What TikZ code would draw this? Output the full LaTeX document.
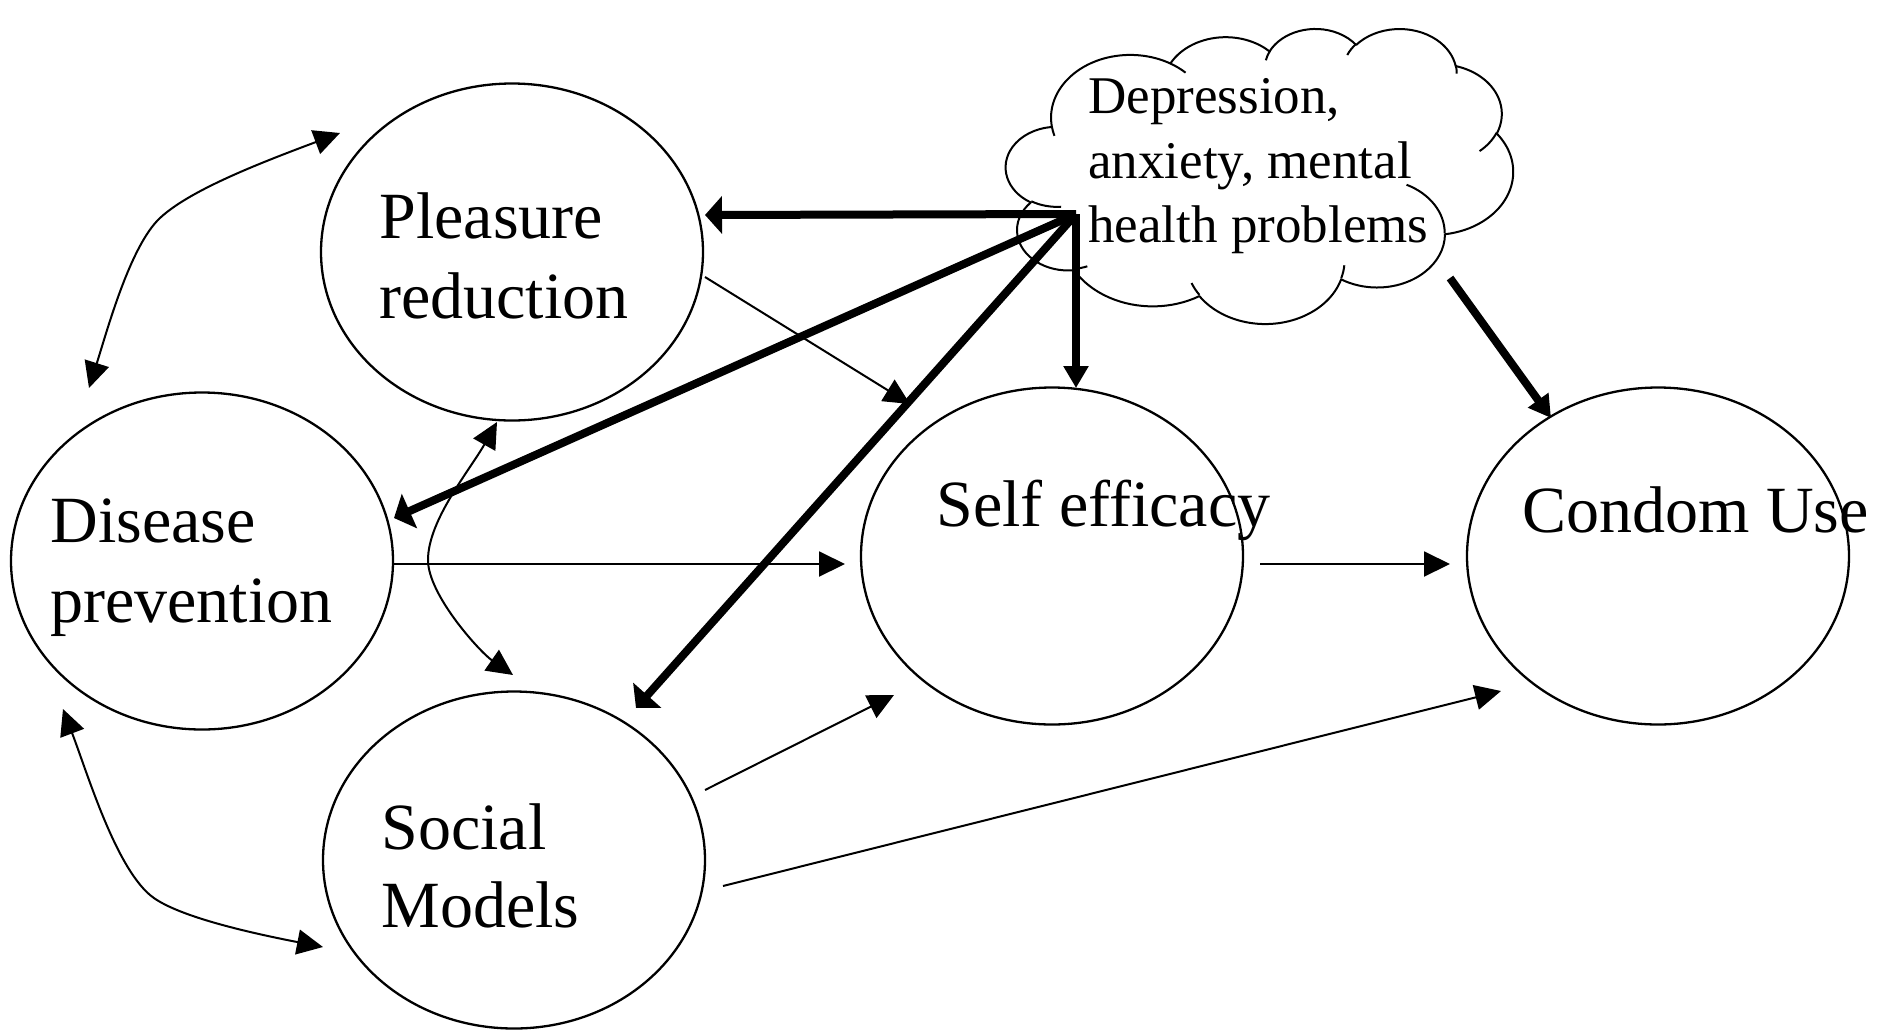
\documentclass[tikz,border=0pt]{standalone}
\usepackage{fontspec}
\setmainfont{Liberation Serif}
\usetikzlibrary{shapes.geometric,arrows.meta}

% One arc of a DrawingML-style path: x radius, y radius, start angle, sweep.
% The angles are directions seen from the centre; they are turned into the
% parametric angles that TikZ's arc uses.
\newcommand\ooarc[4]{%
  \pgfextra{%
    \pgfmathsetmacro\ooS{atan2((#1)*sin(#3),(#2)*cos(#3))}%
    \pgfmathsetmacro\ooE{atan2((#1)*sin((#3)+(#4)),(#2)*cos((#3)+(#4)))}%
    \pgfmathsetmacro\ooE{\ooE+360*round(((#4)-(\ooE-\ooS))/360)}%
    \global\let\ooStart\ooS
    \global\let\ooEnd\ooE
  }%
  arc[start angle=\ooStart, end angle=\ooEnd, x radius=#1, y radius=#2]%
}

\begin{document}
\begin{tikzpicture}[x=0.5pt, y=-0.5pt,
  factor/.style={draw, ellipse, line width=1.15pt, minimum width=191pt,
    minimum height=168.5pt, inner sep=0pt},
  lbl/.style={anchor=base west, inner sep=0pt, font=\fontsize{33}{40}\selectfont},
  cloudlbl/.style={anchor=base west, inner sep=0pt, font=\fontsize{26.5}{32}\selectfont},
  cloudline/.style={line width=1pt, line join=round},
  link/.style={line width=1pt, -{Triangle[length=13pt,width=12.5pt]}},
  twoway/.style={line width=1pt,
    {Triangle[length=13pt,width=12.5pt]}-{Triangle[length=13pt,width=12.5pt]}},
  heavy/.style={line width=4pt, -{Triangle[length=11pt,width=12pt]}},
  heavywide/.style={line width=4pt, -{Triangle[length=8.5pt,width=18.5pt]}}]

\useasboundingbox (0,0) rectangle (1890,1029);

% ---- the five factors
\node[factor] (pr) at (512,252) {};
\node[factor] (dp) at (202,561) {};
\node[factor] (sm) at (514,860) {};
\node[factor] (se) at (1052,556) {};
\node[factor] (cu) at (1658,556) {};

\node[lbl] (prA) at (379,238) {Pleasure};
\node[lbl] (prB) at (379,318) {reduction};
\node[lbl] (dpA) at (50,542) {Disease};
\node[lbl] (dpB) at (50,622) {prevention};
\node[lbl] (smA) at (381,849) {Social};
\node[lbl] (smB) at (381,927) {Models};
\node[lbl] (seA) at (936,526) {Self efficacy};
\node[lbl] (cuA) at (1522,532) {Condom Use};

% ---- cloud
\begin{scope}[shift={(1006,28)}, x=0.5868pt, y=-0.3414pt]
  \draw[cloudline] (39.00,143.70)
    \ooarc{67.53}{91.90}{-190.4875}{123.7805}
    \ooarc{53.33}{72.67}{-144.1024}{89.9452}
    \ooarc{43.65}{59.45}{-145.8079}{99.7230}
    \ooarc{48.57}{65.95}{-130.9861}{117.2417}
    \ooarc{53.33}{72.73}{-78.7089}{109.0269}
    \ooarc{67.75}{92.20}{-46.2673}{130.2690}
    \ooarc{57.85}{78.67}{0.6250}{114.0333}
    \ooarc{67.52}{92.15}{22.4516}{115.1726}
    \ooarc{77.20}{105.43}{66.2426}{75.7110}
    \ooarc{43.60}{59.18}{-274.9421}{146.7356}
    \ooarc{43.45}{59.45}{-246.8285}{152.5189}
    -- cycle;
  \draw[cloudline]
    (46.93,261.77) \ooarc{43.45}{59.45}{86.742}{26.4295}
    (69.28,348.99) \ooarc{43.60}{59.18}{73.6105}{11.4475}
    (164.78,390.90) \ooarc{67.52}{92.15}{137.6242}{14.0811}
    (288.27,347.51) \ooarc{67.52}{92.15}{6.4533}{15.9984}
    (341.29,229.54) \ooarc{57.85}{78.67}{-70.2924}{70.9174}
    (417.98,153.54) \ooarc{53.33}{72.73}{30.3180}{27.7515}
    (383.24,54.26) \ooarc{48.57}{65.95}{-13.7443}{14.8589}
    (290.78,39.52) \ooarc{48.57}{65.95}{-149.1815}{18.1954}
    (221.41,47.20) \ooarc{43.65}{59.45}{-163.4943}{17.6864}
    (140.00,51.92) \ooarc{67.53}{91.90}{-66.7070}{12.3194}
    (41.27,157.89) \ooarc{67.53}{91.90}{157.6544}{11.8582};
\end{scope}

\node[cloudlbl] (mhA) at (1088,113) {Depression,};
\node[cloudlbl] (mhB) at (1088,178) {anxiety, mental};
\node[cloudlbl] (mhC) at (1088,242) {health problems};

% ---- connector end points
\coordinate (hub) at (1076,214);
\coordinate (mhOut) at (1450,278);
\coordinate (prL) at (340,133);   \coordinate (dpT) at (89,388);
\coordinate (dpB) at (63,709);    \coordinate (smL) at (323,947);
\coordinate (prB) at (497,422);   \coordinate (smT) at (513,675);
\coordinate (dpR) at (394,564);   \coordinate (seL) at (845,564);
\coordinate (prR) at (705,277);   \coordinate (seTL) at (910,404);
\coordinate (smR) at (705,790);   \coordinate (seBL) at (894,695);
\coordinate (smRB) at (723,886);  \coordinate (cuBL) at (1501,691);
\coordinate (seR) at (1260,564);  \coordinate (cuL) at (1450,564);
\coordinate (cuTL) at (1551,418);
\coordinate (prIn) at (705,215);  \coordinate (dpIn) at (394,518);
\coordinate (smIn) at (636,708);  \coordinate (seIn) at (1076,388);

% ---- curved two-way links
\draw[twoway] (prL) .. controls (260,163) and (190,190) .. (160,218)
                    .. controls (130,246) and (107,331) .. (dpT);
\draw[twoway] (dpB) .. controls (88,775) and (115,865) .. (150,895)
                    .. controls (170,912) and (225,928) .. (smL);
\draw[twoway] (prB) .. controls (470,470) and (428,520) .. (428,560)
                    .. controls (428,595) and (480,652) .. (smT);

% ---- thin one-way links
\draw[link] (dpR) -- (seL);
\draw[link] (prR) -- (seTL);
\draw[link] (smR) -- (seBL);
\draw[link] (smRB) -- (cuBL);
\draw[link] (seR) -- (cuL);

% ---- heavy links from the cloud
\draw[heavywide] (hub) -- (prIn);
\draw[heavywide] (hub) -- (dpIn);
\draw[heavywide] (hub) -- (smIn);
\draw[heavy] (hub) -- (seIn);
\draw[heavy] (mhOut) -- (cuTL);
\end{tikzpicture}
\end{document}
